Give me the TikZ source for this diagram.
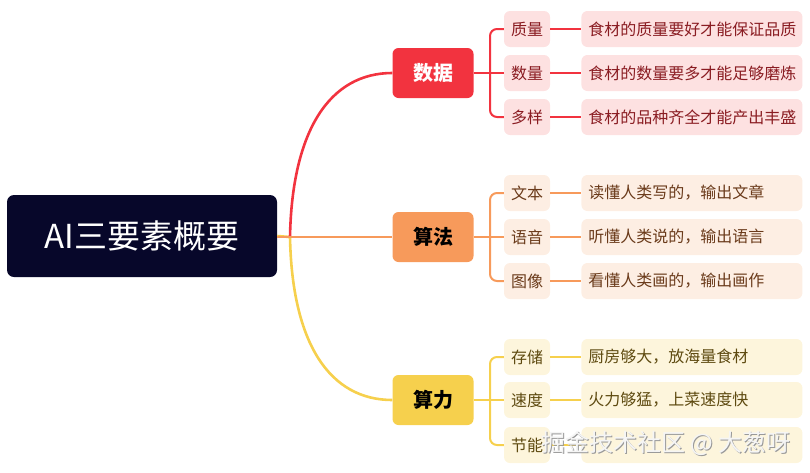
\documentclass[tikz,border=0pt]{standalone}
\usepackage{fontspec}
\setmainfont{Noto Sans CJK SC}
\usetikzlibrary{positioning}

\definecolor{rootnavy}{HTML}{07072A}
\definecolor{datared}{HTML}{F2333F}
\definecolor{datapale}{HTML}{FDE1E1}
\definecolor{datatext}{HTML}{8A1C22}
\definecolor{algoorange}{HTML}{F79A5B}
\definecolor{algopale}{HTML}{FDEEE3}
\definecolor{algotext}{HTML}{6A3A1A}
\definecolor{compyellow}{HTML}{F6D04D}
\definecolor{comppale}{HTML}{FDF5DC}
\definecolor{comptext}{HTML}{5E4A10}

\begin{document}
\begin{tikzpicture}[
    x=1pt, y=-1pt,
    rootbox/.style={rectangle, fill=rootnavy, rounded corners=7pt, minimum width=270pt, minimum height=82pt, text=white, font=\fontsize{33}{37}\selectfont},
    catbox/.style={rectangle, rounded corners=6pt, minimum width=81pt, minimum height=50pt, font=\fontsize{20}{24}\selectfont\bfseries},
    subbox/.style={rectangle, rounded corners=6pt, minimum width=46pt, minimum height=36pt, inner sep=0pt, font=\fontsize{16}{19}\selectfont},
    leafbox/.style={rectangle, rounded corners=6pt, text width=207pt, inner xsep=7pt, inner ysep=0pt, minimum height=36pt, align=left, font=\fontsize{16}{19}\selectfont},
    trunk/.style={line width=2.6pt},
    twig/.style={line width=2pt, rounded corners=7pt}
]
\useasboundingbox (0,0) rectangle (810,472);

% root and branch nodes
\node[rootbox] (root) at (142,236) {AI三要素概要};
\coordinate (rj) at (290,237);
\node[catbox, fill=datared, text=white] (data) at (433,73) {数据};
\node[catbox, fill=algoorange, text=black] (algo) at (433,237) {算法};
\node[catbox, fill=compyellow, text=black] (comp) at (433,400) {算力};

% 数据
\node[subbox, fill=datapale, text=datatext] (d1) at (527,29) {质量};
\node[subbox, fill=datapale, text=datatext] (d2) at (527,73) {数量};
\node[subbox, fill=datapale, text=datatext] (d3) at (527,117) {多样};
\node[leafbox, fill=datapale, text=datatext, right=31pt of d1] (d1x) {食材的质量要好才能保证品质};
\node[leafbox, fill=datapale, text=datatext, right=31pt of d2] (d2x) {食材的数量要多才能足够磨炼};
\node[leafbox, fill=datapale, text=datatext, right=31pt of d3] (d3x) {食材的品种齐全才能产出丰盛};

% 算法
\node[subbox, fill=algopale, text=algotext] (a1) at (527,193) {文本};
\node[subbox, fill=algopale, text=algotext] (a2) at (527,237) {语音};
\node[subbox, fill=algopale, text=algotext] (a3) at (527,281) {图像};
\node[leafbox, fill=algopale, text=algotext, right=31pt of a1] (a1x) {读懂人类写的，输出文章};
\node[leafbox, fill=algopale, text=algotext, right=31pt of a2] (a2x) {听懂人类说的，输出语言};
\node[leafbox, fill=algopale, text=algotext, right=31pt of a3] (a3x) {看懂人类画的，输出画作};

% 算力
\node[subbox, fill=comppale, text=comptext] (c1) at (527,357) {存储};
\node[subbox, fill=comppale, text=comptext] (c2) at (527,400) {速度};
\node[subbox, fill=comppale, text=comptext] (c3) at (527,445) {节能};
\node[leafbox, fill=comppale, text=comptext, right=31pt of c1] (c1x) {厨房够大，放海量食材};
\node[leafbox, fill=comppale, text=comptext, right=31pt of c2] (c2x) {火力够猛，上菜速度快};
\node[leafbox, fill=comppale, text=comptext, right=31pt of c3] (c3x) {};

% trunk lines
\draw[trunk, compyellow] (root.east) -- (rj) .. controls (292,344) and (330,400) .. (comp.west);
\draw[trunk, datared] (rj) .. controls (292,130) and (330,73) .. (data.west);
\draw[trunk, algoorange] (root.east |- rj) -- (algo.west);

% brackets
\coordinate (dj) at (490,73);
\coordinate (aj) at (490,237);
\coordinate (cj) at (490,400);
\draw[twig, datared] (data.east) -- (d2.west);
\draw[twig, datared] (d1.west) -| (dj) |- (d3.west);
\draw[twig, algoorange] (algo.east) -- (a2.west);
\draw[twig, algoorange] (a1.west) -| (aj) |- (a3.west);
\draw[twig, compyellow] (comp.east) -- (c2.west);
\draw[twig, compyellow] (c1.west) -| (cj) |- (c3.west);

\foreach \n in {d1,d2,d3}
  \draw[twig, datared] (\n.east) -- (\n x.west);
\foreach \n in {a1,a2,a3}
  \draw[twig, algoorange] (\n.east) -- (\n x.west);
\foreach \n in {c1,c2,c3}
  \draw[twig, compyellow] (\n.east) -- (\n x.west);

% watermark
\node[text=gray!80, font=\fontsize{24}{28}\selectfont] (wmshadow) at (667,444) {掘金技术社区 @ 大葱呀};
\node[text=white!92!gray, font=\fontsize{24}{28}\selectfont] (wm) at (666,443) {掘金技术社区 @ 大葱呀};
\end{tikzpicture}
\end{document}
